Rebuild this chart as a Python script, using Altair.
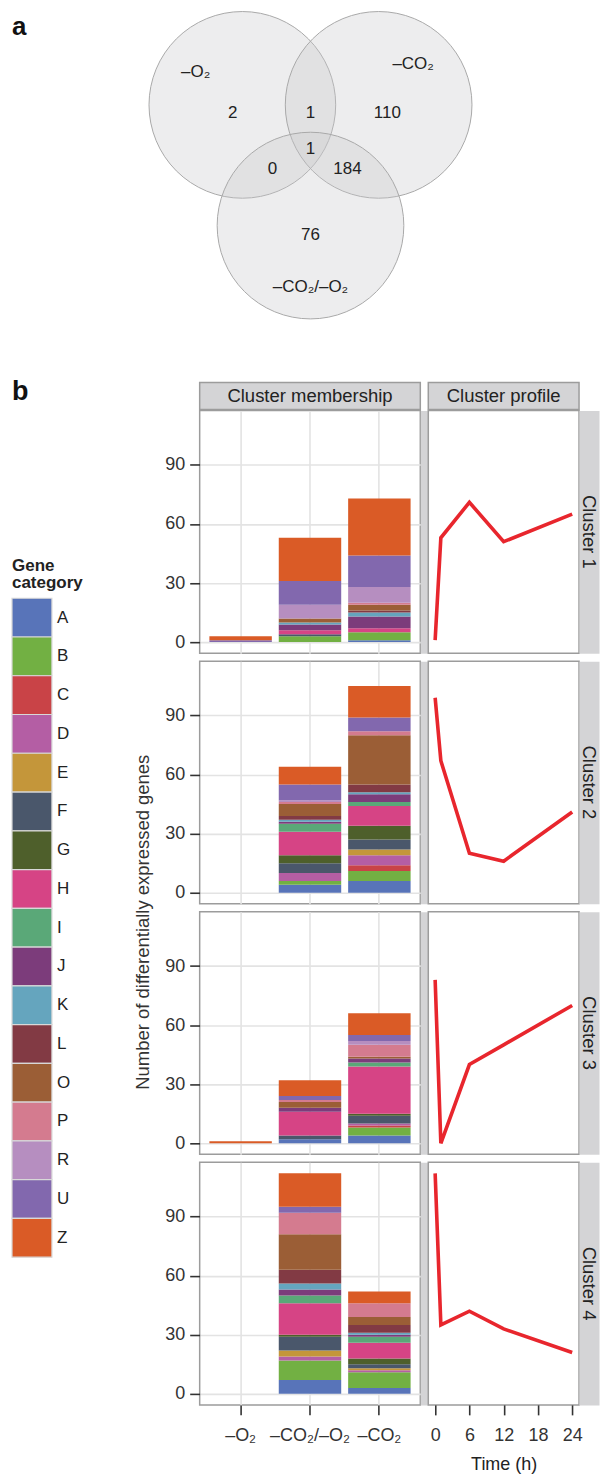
import altair as alt
import pandas as pd

# ---------------- data ----------------
categories = ["A", "B", "C", "D", "E", "F", "G", "H", "I", "J", "K", "L", "O", "P", "R", "U", "Z"]
category_colors = ["#5874b9", "#72b043", "#c94347", "#b45ea4", "#c4963a", "#4a576b", "#4e5f2b",
                   "#d64485", "#5aa878", "#7c3c7b", "#65a5be", "#823a44", "#9b5e36", "#d47b8f",
                   "#b68ec0", "#8268ae", "#da5b26"]
conditions = ["–O₂", "–CO₂/–O₂", "–CO₂"]
clusters = ["Cluster 1", "Cluster 2", "Cluster 3", "Cluster 4"]

# gene counts per category      A  B  C  D  E  F  G  H  I  J  K  L  O  P  R  U  Z
c1_o2      = [0, 0, 0, 0, 0, 0, 0, 0, 0, 0, 0, 0, 0, 0, 0, 1, 2]
c1_co2_o2  = [0, 3, 0, 0, 0, 1, 0, 2, 0, 3, 1, 0, 2, 0, 7, 12, 22]
c1_co2     = [1, 4, 0, 0, 0, 0, 0, 2, 0, 6, 2, 1, 3, 1, 8, 16, 29]
c2_o2      = [0, 0, 0, 0, 0, 0, 0, 0, 0, 0, 0, 0, 0, 0, 0, 0, 0]
c2_co2_o2  = [4, 2, 0, 4, 0, 5, 4, 12, 4, 1, 1, 2, 6, 1, 1, 8, 9]
c2_co2     = [6, 5, 3, 5, 3, 5, 7, 10, 2, 4, 1, 4, 25, 2, 0, 7, 16]
c3_o2      = [0, 0, 0, 0, 0, 0, 0, 0, 0, 0, 0, 0, 0, 0, 0, 0, 1]
c3_co2_o2  = [2, 0, 0, 0, 0, 2, 0, 12, 0, 2, 0, 0, 3, 1, 0, 2, 8]
c3_co2     = [4, 4, 1, 1, 0, 4, 1, 24, 2, 2, 0, 0, 1, 6, 2, 3, 11]
c4_o2      = [0, 0, 0, 0, 0, 0, 0, 0, 0, 0, 0, 0, 0, 0, 0, 0, 0]
c4_co2_o2  = [7, 10, 0, 2, 3, 7, 1, 16, 4, 3, 3, 7, 18, 11, 0, 3, 17]
c4_co2     = [3, 8, 0, 1, 1, 2, 3, 8, 3, 1, 1, 4, 4, 7, 0, 0, 6]

times = [0, 1, 6, 12, 24]
profile_c1 = [1, 53, 71, 51, 65]
profile_c2 = [99, 67, 20, 16, 41]
profile_c3 = [83, 0, 40, 50, 70]
profile_c4 = [112, 35, 42, 33, 21]

venn_sets = ["–O₂", "–CO₂", "–CO₂/–O₂"]
venn_counts = [2, 1, 110, 1, 0, 184, 76]   # O2 only, O2&CO2, CO2 only, all, O2&both, CO2&both, both only

# ---------------- layout (positions, not data) ----------------
VENN_CIRCLE_X = [-0.73, 0.73, 0.0]
VENN_CIRCLE_Y = [0.0, 0.0, -1.293]
VENN_SETLABEL_X = [-1.23, 1.10, 0.0]
VENN_SETLABEL_Y = [0.35, 0.436, -1.949]
VENN_COUNT_X = [-0.834, 0.0, 0.824, 0.0, -0.406, 0.396, 0.0]
VENN_COUNT_Y = [-0.088, -0.088, -0.088, -0.473, -0.687, -0.687, -1.393]

FONT = "Liberation Sans"
TXT = "#222222"
AX = "#333333"
GRID = "#e3e3e3"
BORDER = "#9c9c9c"
STRIP = "#d4d4d6"
LINE_RED = "#e8262d"

Y_DOM = [-5.6, 117.6]
W_LEG, W_BAR, W_BAND, W_LINE, W_STRIP = 191, 221, 8, 151, 20
H_HDR, H_PANEL, H_GAP = 27, 243, 6
TOP_BLEED = 3   # fixed top bound so the estimated box of the letter "a" does not move the origin

# ---------------- tables ----------------
cluster_lists = [
    [c1_o2, c1_co2_o2, c1_co2],
    [c2_o2, c2_co2_o2, c2_co2],
    [c3_o2, c3_co2_o2, c3_co2],
    [c4_o2, c4_co2_o2, c4_co2],
]
rows = []
for ci, cl in enumerate(clusters):
    for di, cond in enumerate(conditions):
        for ki, cat in enumerate(categories):
            rows.append({"cluster": cl, "cond": cond, "cat": cat, "idx": ki,
                         "n": cluster_lists[ci][di][ki]})
bars_df = pd.DataFrame(rows)

profiles = [profile_c1, profile_c2, profile_c3, profile_c4]
prof_df = pd.DataFrame([{"cluster": cl, "t": t, "v": v}
                        for cl, p in zip(clusters, profiles) for t, v in zip(times, p)])

color_scale = alt.Scale(domain=categories, range=category_colors)
blank_df = pd.DataFrame({"s": [""]})


def blank(w, h):
    return alt.Chart(blank_df).mark_text().encode(text=alt.value("")).properties(width=w, height=h)


# ---------------- Venn diagram (panel a) ----------------
VX = [-302 / 93.5, (590 - 302) / 93.5]
VY = [-(373 - 94.8) / 93.5, 94.8 / 93.5]
vx = lambda f: alt.X(f, scale=alt.Scale(domain=VX, nice=False, zero=False), axis=None)
vy = lambda f: alt.Y(f, scale=alt.Scale(domain=VY, nice=False, zero=False), axis=None)

circ_df = pd.DataFrame({"set": venn_sets, "x": VENN_CIRCLE_X, "y": VENN_CIRCLE_Y})
setlab_df = pd.DataFrame({"set": venn_sets, "x": VENN_SETLABEL_X, "y": VENN_SETLABEL_Y})
count_df = pd.DataFrame({"n": [str(c) for c in venn_counts], "x": VENN_COUNT_X, "y": VENN_COUNT_Y})

circles = alt.Chart(circ_df).mark_point(
    shape="circle", size=187 ** 2, filled=True, fill="#c8c9cb", fillOpacity=0.33,
    stroke="#a9a9a9", strokeWidth=1, strokeOpacity=1, opacity=1
).encode(x=vx("x:Q"), y=vy("y:Q"))
setlabels = alt.Chart(setlab_df).mark_text(fontSize=17, color=TXT).encode(
    x=vx("x:Q"), y=vy("y:Q"), text="set:N")
counts = alt.Chart(count_df).mark_text(fontSize=17, color=TXT).encode(
    x=vx("x:Q"), y=vy("y:Q"), text="n:N")
label_a = alt.Chart(blank_df).mark_text(
    fontSize=26, fontWeight="bold", align="left", baseline="alphabetic", color="#111111"
).encode(x=alt.value(3), y=alt.value(24.5), text=alt.value("a"))
top_bound = alt.Chart(blank_df).mark_rule(opacity=0, strokeOpacity=0).encode(
    x=alt.value(0), y=alt.value(-TOP_BLEED), y2=alt.value(0))

venn = alt.layer(top_bound, circles, setlabels, counts, label_a).properties(width=590, height=373)

# ---------------- legend cell (with panel letter b) ----------------
leg_df = pd.DataFrame({"cat": categories})
leg_y = alt.Y("cat:N", scale=alt.Scale(domain=categories, range=[216, 876], paddingInner=0, paddingOuter=0),
              axis=None)
leg_rects = alt.Chart(leg_df).mark_rect(stroke="#d8d8d8", strokeWidth=1.2).encode(
    y=leg_y, x=alt.value(3), x2=alt.value(43),
    color=alt.Color("cat:N", scale=color_scale, legend=None))
leg_labels = alt.Chart(leg_df).mark_text(align="left", baseline="middle", fontSize=17, color=TXT).encode(
    y=leg_y, x=alt.value(48), text="cat:N")
leg_title = alt.Chart(blank_df).mark_text(
    align="left", baseline="alphabetic", fontSize=17, fontWeight="bold", lineBreak="\n",
    lineHeight=17, color=TXT
).encode(x=alt.value(3), y=alt.value(189), text=alt.value("Gene\ncategory"))
label_b = alt.Chart(blank_df).mark_text(
    fontSize=27, fontWeight="bold", align="left", baseline="alphabetic", color="#111111"
).encode(x=alt.value(3), y=alt.value(17), text=alt.value("b"))
legend_cell = alt.layer(leg_rects, leg_labels, leg_title, label_b).properties(width=W_LEG, height=H_HDR)


# ---------------- panels ----------------
def header(text, w):
    return alt.Chart(pd.DataFrame({"s": [text]})).mark_text(fontSize=18.5, color=TXT).encode(
        text="s:N").properties(width=w, height=H_HDR,
                               view=alt.ViewBackground(fill=STRIP, stroke=BORDER, strokeWidth=1.5))


def row_strip(text):
    return alt.Chart(pd.DataFrame({"s": [text]})).mark_text(fontSize=18.5, color=TXT, angle=90).encode(
        text="s:N").properties(width=W_STRIP, height=H_PANEL,
                               view=alt.ViewBackground(fill=STRIP, stroke="transparent"))


def band_cell():
    return alt.Chart(blank_df).mark_text().encode(text=alt.value("")).properties(
        width=W_BAND, height=H_PANEL, view=alt.ViewBackground(fill=STRIP, stroke="transparent"))


def bar_panel(k, last):
    d = bars_df[(bars_df.cluster == clusters[k]) & (bars_df.n > 0)]
    xaxis = alt.Axis(title=None, labels=last, ticks=last, domain=False, grid=True,
                     gridColor=GRID, gridWidth=1.6, bandPosition=0.5, labelAngle=0,
                     labelFontSize=18, labelColor=AX, labelPadding=12, labelOverlap=False,
                     tickSize=10, tickColor=AX, tickWidth=1.6)
    yargs = dict(values=[0, 30, 60, 90], grid=True, gridColor=GRID, gridWidth=1.6, domain=False,
                 tickSize=10, tickColor=AX, tickWidth=1.6, labelFontSize=18, labelColor=AX,
                 labelPadding=5)
    if k == 1:
        yargs.update(title="Number of differentially expressed genes", titleFontSize=18.5,
                     titleFontWeight="normal", titleColor=AX, titleX=-47, titleY=261,
                     titleAngle=270, titleBaseline="bottom", titleAlign="center")
    else:
        yargs.update(title=None)
    return alt.Chart(d).mark_bar().encode(
        x=alt.X("cond:N", scale=alt.Scale(domain=conditions, paddingInner=0.1, paddingOuter=0.14),
                axis=xaxis),
        y=alt.Y("n:Q", stack="zero", scale=alt.Scale(domain=Y_DOM, nice=False, zero=False),
                axis=alt.Axis(**yargs)),
        color=alt.Color("cat:N", scale=color_scale, legend=None),
        order=alt.Order("idx:Q", sort="ascending"),
    ).properties(width=W_BAR, height=H_PANEL,
                 view=alt.ViewBackground(stroke=BORDER, strokeWidth=1.5))


def line_panel(k, last):
    d = prof_df[prof_df.cluster == clusters[k]]
    if last:
        xaxis = alt.Axis(values=[0, 6, 12, 18, 24], title="Time (h)", grid=False, domain=False,
                         tickSize=10, tickColor=AX, tickWidth=1.6, labelFontSize=18, labelColor=AX,
                         labelPadding=12, labelFlush=False, labelOverlap=False,
                         titleFontSize=18, titleFontWeight="normal", titleColor=TXT,
                         titleY=51, titleBaseline="top")
    else:
        xaxis = None
    return alt.Chart(d).mark_line(color=LINE_RED, strokeWidth=3.6).encode(
        x=alt.X("t:Q", scale=alt.Scale(domain=[-1.2, 25.2], nice=False, zero=False), axis=xaxis),
        y=alt.Y("v:Q", scale=alt.Scale(domain=Y_DOM, nice=False, zero=False), axis=None),
    ).properties(width=W_LINE, height=H_PANEL,
                 view=alt.ViewBackground(stroke=BORDER, strokeWidth=1.5))


cells = [legend_cell, header("Cluster membership", W_BAR), blank(W_BAND, H_HDR),
         header("Cluster profile", W_LINE), blank(W_STRIP, H_HDR)]
for k in range(4):
    last = k == 3
    if k > 0:
        cells += [blank(W_LEG, H_GAP), blank(W_BAR, H_GAP), blank(W_BAND, H_GAP),
                  blank(W_LINE, H_GAP), blank(W_STRIP, H_GAP)]
    cells += [blank(W_LEG, H_PANEL), bar_panel(k, last), band_cell(), line_panel(k, last),
              row_strip(clusters[k])]

bgrid = alt.concat(*cells, columns=5, spacing={"row": 1, "column": 0}, bounds="flush")

chart = alt.vconcat(venn, bgrid, spacing=0, bounds="flush").properties(
    padding={"left": 0, "top": -TOP_BLEED, "right": 0, "bottom": 0}
).configure(font=FONT).configure_view(stroke="transparent")

chart.save("out.html", embed_options={"renderer": "svg", "actions": False})
